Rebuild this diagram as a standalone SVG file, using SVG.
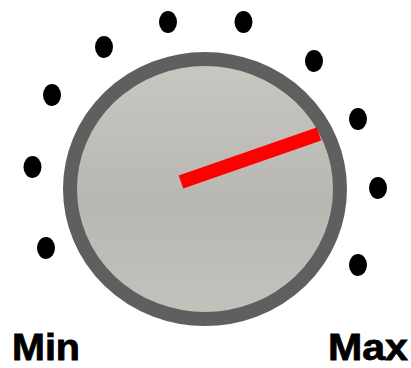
<svg xmlns="http://www.w3.org/2000/svg" width="411" height="368" viewBox="0 0 411 368">
<style>
.dot{fill:#000}
.lbl{font-family:"Liberation Sans",Arial,sans-serif;font-weight:bold;font-size:37px;fill:#000;stroke:#000;stroke-width:0.8}
</style>
<defs>
<linearGradient id="face" x1="0" y1="0" x2="0" y2="1">
<stop offset="0" stop-color="#c9c7c2"/>
<stop offset="0.55" stop-color="#b9b7b2"/>
<stop offset="1" stop-color="#c4c2bd"/>
</linearGradient>
</defs>
<rect width="411" height="368" fill="#fff"/>
<g id="dots">
<ellipse class="dot" cx="46" cy="248" rx="9" ry="11"/>
<ellipse class="dot" cx="32.5" cy="167" rx="9" ry="11"/>
<ellipse class="dot" cx="52" cy="95" rx="9" ry="11"/>
<ellipse class="dot" cx="104" cy="47" rx="9" ry="11"/>
<ellipse class="dot" cx="168" cy="22" rx="9" ry="11"/>
<ellipse class="dot" cx="243.5" cy="22" rx="9" ry="11"/>
<ellipse class="dot" cx="314" cy="61" rx="9" ry="11"/>
<ellipse class="dot" cx="358" cy="119" rx="9" ry="11"/>
<ellipse class="dot" cx="378" cy="188" rx="9" ry="11"/>
<ellipse class="dot" cx="358" cy="265" rx="9" ry="11"/>
</g>
<g id="knob">
<ellipse cx="205" cy="189" rx="135" ry="130" fill="url(#face)" stroke="#5f5f5f" stroke-width="14"/>
<line x1="181" y1="182" x2="319" y2="134" stroke="#ff0000" stroke-width="14"/>
</g>
<g id="labels">
<text class="lbl" x="12" y="360" textLength="68" lengthAdjust="spacingAndGlyphs">Min</text>
<text class="lbl" x="328" y="360" textLength="80" lengthAdjust="spacingAndGlyphs">Max</text>
</g>
</svg>
